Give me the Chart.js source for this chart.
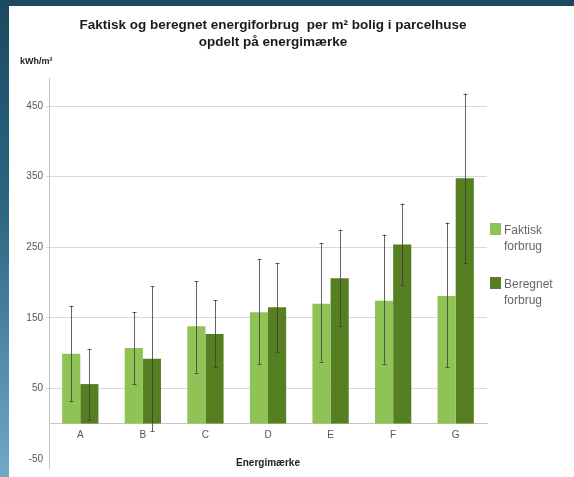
<!DOCTYPE html>
<html>
<head>
<meta charset="utf-8">
<script src="https://cdn.jsdelivr.net/npm/chart.js@4/dist/chart.umd.min.js"></script>
<style>
  html, body { margin: 0; padding: 0; width: 574px; height: 477px; overflow: hidden; }
  body { position: relative; background: linear-gradient(to bottom, #1b4960 0%, #2c6784 45%, #72a8c8 100%); }
  #panel { position: absolute; left: 9px; top: 6px; width: 565px; height: 471px; background: #fff; }
  canvas { display: block; }
</style>
</head>
<body>
<div id="panel"><canvas id="chart" width="565" height="471"></canvas></div>
<script>
// Energimærker
const categories = ['A', 'B', 'C', 'D', 'E', 'F', 'G'];

// Faktisk forbrug, kWh/m² (middel og spredning)
const faktisk     = [99, 107, 138, 158, 170, 174, 181];
const faktiskLow  = [32, 56, 72, 84, 88, 85, 80];
const faktiskHigh = [167, 158, 202, 233, 256, 268, 285];

// Beregnet forbrug, kWh/m² (middel og spredning)
const beregnet     = [56, 92, 127, 165, 206, 254, 348];
const beregnetLow  = [5, -11, 80, 101, 139, 196, 228];
const beregnetHigh = [106, 195, 175, 228, 275, 312, 468];

const yTicks = [-50, 50, 150, 250, 350, 450];

const titleLines = ['Faktisk og beregnet energiforbrug  per m\u00B2 bolig i parcelhuse', 'opdelt p\u00E5 energim\u00E6rke'];
const unitLabel = 'kWh/m\u00B2';
const legendLabels = [['Faktisk', 'forbrug'], ['Beregnet', 'forbrug']];

const FONT = 'Arial, "Liberation Sans", sans-serif';
Chart.defaults.font.family = FONT;

const ranges = [
  { low: faktiskLow, high: faktiskHigh },
  { low: beregnetLow, high: beregnetHigh }
];

// Spredningsstreger over hver søjle
const errorBars = {
  id: 'errorBars',
  afterDatasetsDraw(chart) {
    const { ctx, scales: { y } } = chart;
    ctx.save();
    ctx.strokeStyle = 'rgba(60,60,60,0.8)';
    ctx.lineWidth = 1;
    chart.data.datasets.forEach((ds, i) => {
      const meta = chart.getDatasetMeta(i);
      meta.data.forEach((bar, j) => {
        const x = Math.round(bar.x) + 0.5;
        const yl = y.getPixelForValue(ranges[i].low[j]);
        const yh = y.getPixelForValue(ranges[i].high[j]);
        ctx.beginPath();
        ctx.moveTo(x, yl); ctx.lineTo(x, yh);
        ctx.moveTo(x - 2, Math.round(yl) + 0.5); ctx.lineTo(x + 2, Math.round(yl) + 0.5);
        ctx.moveTo(x - 2, Math.round(yh) + 0.5); ctx.lineTo(x + 2, Math.round(yh) + 0.5);
        ctx.stroke();
      });
    });
    ctx.restore();
  }
};

// Overskrift, enhed og signaturforklaring
const decorations = {
  id: 'decorations',
  afterDraw(chart) {
    const { ctx, chartArea } = chart;
    ctx.save();
    ctx.fillStyle = '#1a1a1a';
    ctx.textAlign = 'center';
    ctx.textBaseline = 'middle';
    ctx.font = 'bold 13.5px ' + FONT;
    ctx.fillText(titleLines[0], 264, 19);
    ctx.fillText(titleLines[1], 264, 36);

    ctx.textAlign = 'left';
    ctx.font = 'bold 9px ' + FONT;
    ctx.fillStyle = '#222';
    ctx.fillText(unitLabel, 11, 56);

    const lx = chartArea.right + 3;
    const tops = [217, 271];
    chart.data.datasets.forEach((ds, i) => {
      ctx.fillStyle = ds.backgroundColor;
      ctx.fillRect(lx, tops[i], 11, 12);
      ctx.fillStyle = '#666';
      ctx.font = '12px ' + FONT;
      legendLabels[i].forEach((line, k) => {
        ctx.fillText(line, lx + 14, tops[i] + 8 + k * 16);
      });
    });
    ctx.restore();
  }
};

new Chart(document.getElementById('chart'), {
  type: 'bar',
  data: {
    labels: categories,
    datasets: [
      { label: 'Faktisk forbrug', data: faktisk, backgroundColor: '#8fc356' },
      { label: 'Beregnet forbrug', data: beregnet, backgroundColor: '#567f22' }
    ]
  },
  options: {
    responsive: false,
    animation: false,
    devicePixelRatio: 1,
    layout: { padding: { top: 72, right: 87, bottom: 7, left: 0 } },
    datasets: { bar: { categoryPercentage: 0.58, barPercentage: 1 } },
    plugins: {
      legend: { display: false },
      title: { display: false },
      tooltip: { enabled: false }
    },
    scales: {
      x: {
        position: { y: 0 },
        grid: { display: false, drawTicks: false },
        border: { display: true, color: '#c9c3c3' },
        ticks: { color: '#555', font: { size: 10 }, padding: 6 },
        title: {
          display: true,
          text: 'Energimærke',
          color: '#222',
          font: { size: 10, weight: 'bold' },
          padding: { top: 10, bottom: 0 }
        }
      },
      y: {
        min: -63,
        max: 490,
        afterBuildTicks: (scale) => { scale.ticks = yTicks.map(v => ({ value: v })); },
        afterFit: (scale) => { scale.width = 40; },
        grid: {
          color: (c) => (c.tick && c.tick.value === -50) ? 'rgba(0,0,0,0)' : '#d9d9d9',
          tickLength: 3
        },
        border: { color: '#c4c4c4' },
        ticks: { color: '#555', font: { size: 10 }, padding: 3 }
      }
    }
  },
  plugins: [errorBars, decorations]
});
</script>
</body>
</html>
